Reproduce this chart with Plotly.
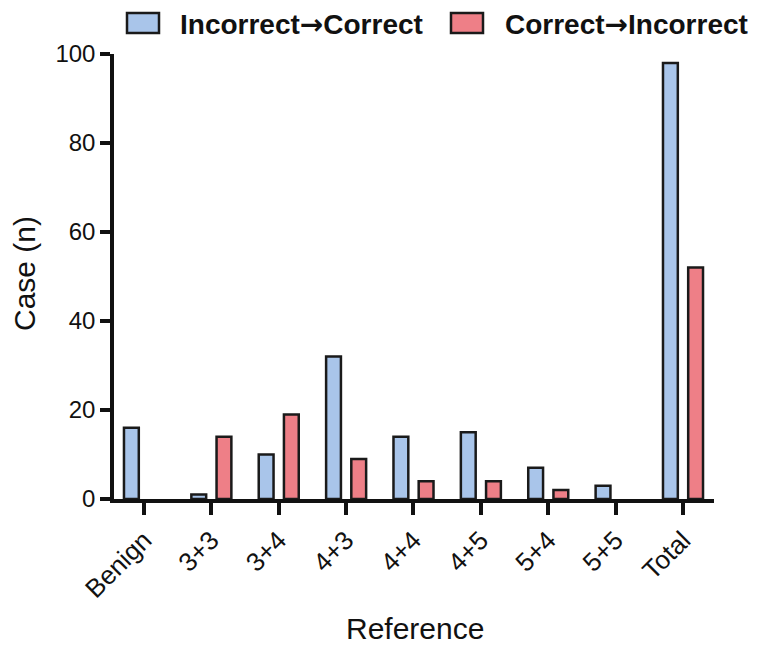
import plotly.graph_objects as go

categories = ["Benign", "3+3", "3+4", "4+3", "4+4", "4+5", "5+4", "5+5", "Total"]
incorrect_to_correct = [16, 1, 10, 32, 14, 15, 7, 3, 98]
correct_to_incorrect = [0, 14, 19, 9, 4, 4, 2, 0, 52]
series_names = ["Incorrect", "Correct"]
y_ticks = [0, 20, 40, 60, 80, 100]

BLUE = "#A9C5EA"
RED = "#EE7F87"
FONT = "Liberation Sans, Arial, sans-serif"
EDGE = "#1a1a1a"

def edge_widths(vals):
    return [2.5 if v > 0 else 0 for v in vals]

fig = go.Figure()
fig.add_trace(go.Bar(
    x=categories, y=incorrect_to_correct, name="Incorrect\u2192Correct",
    width=0.22, offset=-0.297,
    marker=dict(color=BLUE, line=dict(color=EDGE, width=edge_widths(incorrect_to_correct))),
    showlegend=False,
))
fig.add_trace(go.Bar(
    x=categories, y=correct_to_incorrect, name="Correct\u2192Incorrect",
    width=0.22, offset=0.077,
    marker=dict(color=RED, line=dict(color=EDGE, width=edge_widths(correct_to_incorrect))),
    showlegend=False,
))

# page has an 8px body margin; the figure is placed at (8, 8)
OFF = 8
W, H = 763 - OFF, 647 - OFF
# target plot area in window pixels: x 114..714, y 54..499
L, R, T, B = 114 - OFF, 763 - 714, 54 - OFF, 647 - 499
pw, ph = W - L - R, H - T - B
def px(x):
    return (x - OFF - L) / pw
def py(y):
    return (H - B - (y - OFF)) / ph

ARROW = '<span style="font-family:DejaVu Sans">\u2192</span>'
legend_items = [
    (series_names[0] + ARROW + series_names[1], BLUE, 127, 159, 178),
    (series_names[1] + ARROW + series_names[0], RED, 451, 483, 503),
]
for text, col, bx0, bx1, tx in legend_items:
    fig.add_shape(type="rect", xref="paper", yref="paper",
                  x0=px(bx0), x1=px(bx1), y0=py(33), y1=py(13),
                  fillcolor=col, line=dict(color=EDGE, width=2.5))
    fig.add_annotation(xref="paper", yref="paper", x=px(tx), y=py(24.5),
                       xanchor="left", yanchor="middle", showarrow=False,
                       text="<b>" + text + "</b>",
                       font=dict(family=FONT, size=28, color="#111"))

# axis titles
fig.add_annotation(xref="paper", yref="paper", x=px(415), y=py(628),
                   xanchor="center", yanchor="middle", showarrow=False,
                   text="Reference", font=dict(family=FONT, size=30, color="#111"))
fig.add_annotation(xref="paper", yref="paper", x=px(24), y=py(274),
                   xanchor="center", yanchor="middle", showarrow=False, textangle=-90,
                   text="Case (n)", font=dict(family=FONT, size=30, color="#111"))

fig.update_layout(
    width=W, height=H,
    margin=dict(l=L, r=R, t=T, b=B, autoexpand=False),
    plot_bgcolor="white", paper_bgcolor="white",
    barmode="overlay",
    font=dict(family=FONT, color="#111"),
    xaxis=dict(
        type="category", range=[-0.445, 8.46], automargin=False,
        showline=True, linecolor="#111", linewidth=3.5,
        ticks="outside", ticklen=12, tickwidth=3.5, tickcolor="#111",
        tickangle=-45, tickfont=dict(size=26, family=FONT, color="#111"),
        showgrid=False, zeroline=False,
    ),
    yaxis=dict(
        range=[0, 100], tickvals=y_ticks, automargin=False,
        showline=True, linecolor="#111", linewidth=3.5,
        ticks="outside", ticklen=10, tickwidth=3.5, tickcolor="#111",
        tickfont=dict(size=24, family=FONT, color="#111"),
        showgrid=False, zeroline=False,
    ),
)

fig.write_html("out.html")
